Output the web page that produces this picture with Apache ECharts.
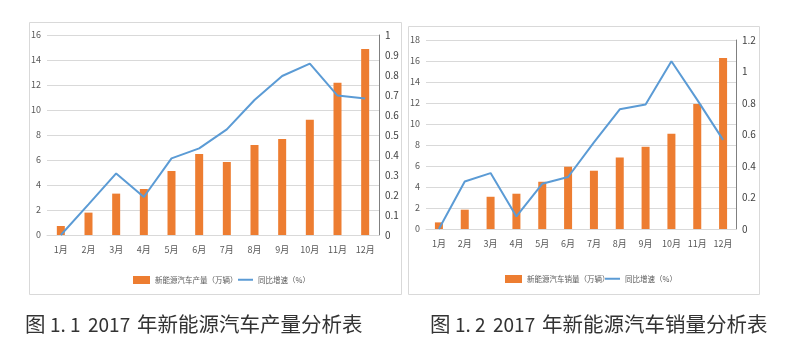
<!DOCTYPE html>
<html>
<head>
<meta charset="utf-8">
<script src="https://cdn.jsdelivr.net/npm/echarts@6/dist/echarts.min.js"></script>
<style>
  html, body { margin: 0; padding: 0; background: #fff; }
  #chart { width: 785px; height: 349px; }
</style>
</head>
<body>
<div id="chart"></div>
<script>
// Months of 2017
const months = ['1月', '2月', '3月', '4月', '5月', '6月', '7月', '8月', '9月', '10月', '11月', '12月'];

// Production (万辆) and its year-on-year growth
const production = [0.72, 1.79, 3.31, 3.68, 5.12, 6.48, 5.84, 7.2, 7.68, 9.23, 12.19, 14.88];
const productionGrowth = [0, 0.153, 0.308, 0.19, 0.383, 0.433, 0.528, 0.675, 0.795, 0.857, 0.697, 0.682];

// Sales (万辆) and its year-on-year growth
const sales = [0.63, 1.84, 3.07, 3.36, 4.5, 5.93, 5.55, 6.81, 7.83, 9.06, 11.91, 16.29];
const salesGrowth = [0, 0.302, 0.355, 0.08, 0.287, 0.33, 0.55, 0.76, 0.79, 1.065, 0.82, 0.566];

const names1 = ['新能源汽车产量（万辆）', '同比增速（%）'];
const names2 = ['新能源汽车销量（万辆）', '同比增速（%）'];

// Figure captions, split so the number part can be spaced out
const captionPrefix = '图';
const captionNumbers = ['1. 1', '1. 2'];
const captionYear = '2017';
const captionTitles = ['年新能源汽车产量分析表', '年新能源汽车销量分析表'];

const ORANGE = '#ED7D31';
const BLUE = '#5B9BD5';
const GRID = '#d9d9d9';
const LABEL = '#595959';
const FONT = '"Noto Sans CJK SC", "Noto Sans", sans-serif';

function leftAxis(gridIndex, max, interval) {
  return {
    type: 'value', gridIndex, min: 0, max, interval,
    axisLine: { show: false }, axisTick: { show: false },
    axisLabel: { color: LABEL, fontSize: 9, fontFamily: FONT, margin: 6 },
    splitLine: { lineStyle: { color: GRID, width: 1 } }
  };
}
function rightAxis(gridIndex, max, interval) {
  return {
    type: 'value', gridIndex, min: 0, max, interval, position: 'right',
    axisLine: { show: true, lineStyle: { color: '#808080', width: 1 } },
    axisTick: { show: false },
    axisLabel: { color: '#404040', fontSize: 10, fontFamily: FONT, margin: 6 },
    splitLine: { show: false }
  };
}
function catAxis(gridIndex) {
  return {
    type: 'category', gridIndex, data: months,
    axisLine: { lineStyle: { color: GRID } }, axisTick: { show: false },
    axisLabel: { color: LABEL, fontSize: 9, fontFamily: FONT, margin: 10 }
  };
}
function legendItem(name, left, top, isLine) {
  return {
    data: [{ name, icon: 'rect' }], left, top,
    itemWidth: isLine ? 15 : 17, itemHeight: isLine ? 2 : 8,
    textStyle: { color: LABEL, fontSize: 7.5, fontFamily: FONT }
  };
}
function caption(baseX, i) {
  const style = { fill: '#333' };
  const latin = '19px ' + FONT;
  const cjk = '20.5px ' + FONT;
  return [
    { type: 'text', left: baseX, top: 314, style: Object.assign({ text: captionPrefix, font: cjk }, style) },
    { type: 'text', left: baseX + 25, top: 315, style: Object.assign({ text: captionNumbers[i], font: latin }, style) },
    { type: 'text', left: baseX + 63, top: 315, style: Object.assign({ text: captionYear, font: latin }, style) },
    { type: 'text', left: baseX + 112, top: 314, style: Object.assign({ text: captionTitles[i], font: cjk }, style) }
  ];
}

const chart = echarts.init(document.getElementById('chart'), null, { renderer: 'canvas' });
chart.setOption({
  animation: false,
  backgroundColor: '#fff',
  grid: [
    { left: 47, right: 406, top: 35, bottom: 114 },
    { left: 426, right: 49, top: 40, bottom: 120 }
  ],
  xAxis: [catAxis(0), catAxis(1)],
  yAxis: [leftAxis(0, 16, 2), rightAxis(0, 1, 0.1), leftAxis(1, 18, 2), rightAxis(1, 1.2, 0.2)],
  legend: [
    legendItem(names1[0], 128, 271, false),
    legendItem(names1[1], 233, 271, true),
    legendItem(names2[0], 500, 270, false),
    legendItem(names2[1], 600, 270, true)
  ],
  graphic: [
    { type: 'rect', shape: { x: 29.5, y: 22.5, width: 372, height: 272 }, style: { fill: 'none', stroke: GRID, lineWidth: 1 }, z: -1 },
    { type: 'rect', shape: { x: 408.5, y: 26.5, width: 351, height: 268 }, style: { fill: 'none', stroke: GRID, lineWidth: 1 }, z: -1 }
  ].concat(caption(25, 0), caption(430, 1)),
  series: [
    { name: names1[0], type: 'bar', xAxisIndex: 0, yAxisIndex: 0, data: production, barWidth: 8, itemStyle: { color: ORANGE } },
    { name: names1[1], type: 'line', xAxisIndex: 0, yAxisIndex: 1, data: productionGrowth, symbol: 'none', lineStyle: { color: BLUE, width: 2 }, itemStyle: { color: BLUE } },
    { name: names2[0], type: 'bar', xAxisIndex: 1, yAxisIndex: 2, data: sales, barWidth: 8, itemStyle: { color: ORANGE } },
    { name: names2[1], type: 'line', xAxisIndex: 1, yAxisIndex: 3, data: salesGrowth, symbol: 'none', lineStyle: { color: BLUE, width: 2 }, itemStyle: { color: BLUE } }
  ]
});
</script>
</body>
</html>
